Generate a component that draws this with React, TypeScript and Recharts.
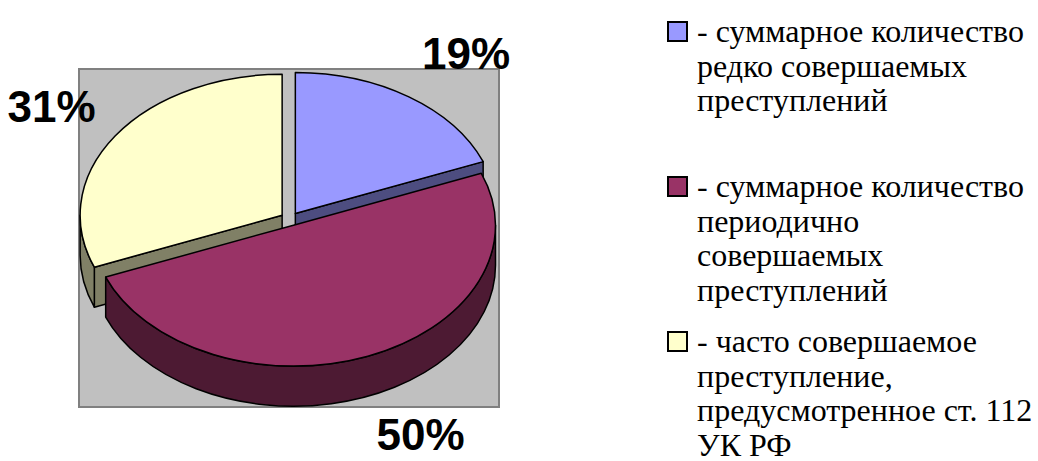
import React from 'react';
import { PieChart, Pie, Cell } from 'recharts';

// legend order: rarely / periodically / frequently committed crimes
const CATEGORIES = ['редко', 'периодично', 'часто'];
const VALUES = [19, 50, 31];
const LEGEND_LINES = [
  ['- суммарное количество', 'редко совершаемых', 'преступлений'],
  ['- суммарное количество', 'периодично', 'совершаемых', 'преступлений'],
  ['- часто совершаемое', 'преступление,', 'предусмотренное ст. 112', 'УК РФ'],
];

const TOP_COLORS = ['#9999FF', '#993366', '#FFFFCC'];
const SIDE_COLORS = ['#4D4D80', '#4D1A33', '#808066'];

const data = CATEGORIES.map((name, i) => ({ name, value: VALUES[i] }));

const RAD = Math.PI / 180;
const TILT = 0.698;
const DEPTH = 40;
const EXPLODE = 9.5;
const CX = 290;
const CY = 219;
const R = 202;

const SERIF = '"Liberation Serif", "DejaVu Serif", "Noto Serif", "Times New Roman", Times, serif';
const SANS = '"Liberation Sans", Arial, Helvetica, sans-serif';

function geom(p: any) {
  const a1 = Math.max(p.startAngle, p.endAngle);
  const a2 = Math.min(p.startAngle, p.endAngle);
  const m = ((a1 + a2) / 2) * RAD;
  const ox = p.cx + EXPLODE * Math.cos(m);
  const oy = p.cy - EXPLODE * TILT * Math.sin(m);
  const r = p.outerRadius;
  const ry = r * TILT;
  const pt = (deg: number, dy = 0) =>
    `${ox + r * Math.cos(deg * RAD)},${oy - ry * Math.sin(deg * RAD) + dy}`;
  const idx = CATEGORIES.indexOf(p.payload?.name ?? p.name);
  return { a1, a2, ox, oy, r, ry, pt, idx };
}

function SideFaces(p: any) {
  const { a1, a2, ox, oy, pt, idx } = geom(p);
  const faces: string[] = [];
  // a radial face shows only when it turns towards the viewer
  if (Math.cos(a1 * RAD) < -1e-6) faces.push(`M${ox},${oy} L${pt(a1)} L${pt(a1, DEPTH)} L${ox},${oy + DEPTH} Z`);
  if (Math.cos(a2 * RAD) > 1e-6) faces.push(`M${ox},${oy} L${pt(a2)} L${pt(a2, DEPTH)} L${ox},${oy + DEPTH} Z`);
  return (
    <g>
      {faces.map((d, i) => (
        <path key={i} d={d} fill={SIDE_COLORS[idx]} stroke="#000" strokeWidth={1.5} strokeLinejoin="round" />
      ))}
    </g>
  );
}

function OuterWall(p: any) {
  const { a1, a2, r, ry, pt, idx } = geom(p);
  const walls: string[] = [];
  [[-540, -360], [-180, 0], [180, 360]].forEach(([lo, hi]) => {
    const b1 = Math.min(a1, hi);
    const b2 = Math.max(a2, lo);
    if (b1 - b2 > 0.01) {
      const large = b1 - b2 > 180 ? 1 : 0;
      walls.push(
        `M${pt(b1)} A${r},${ry} 0 ${large} 1 ${pt(b2)} L${pt(b2, DEPTH)} A${r},${ry} 0 ${large} 0 ${pt(b1, DEPTH)} Z`
      );
    }
  });
  return (
    <g>
      {walls.map((d, i) => (
        <path key={i} d={d} fill={SIDE_COLORS[idx]} stroke="#000" strokeWidth={1.5} strokeLinejoin="round" />
      ))}
    </g>
  );
}

function TopFace(p: any) {
  const { a1, a2, ox, oy, r, ry, pt } = geom(p);
  const large = a1 - a2 > 180 ? 1 : 0;
  const d = `M${ox},${oy} L${pt(a1)} A${r},${ry} 0 ${large} 1 ${pt(a2)} Z`;
  return <path d={d} fill={p.fill} stroke="#000" strokeWidth={1.5} strokeLinejoin="round" />;
}

function PercentLabel(p: any) {
  const m = p.midAngle * RAD;
  const c = Math.cos(m);
  const s = Math.sin(m);
  const x = p.cx + 235 * c;
  const y = p.cy - 200 * s + (s < 0 ? 30 : 0);
  return (
    <text
      x={x}
      y={y}
      textAnchor={c >= 0 ? 'start' : 'end'}
      dominantBaseline="central"
      style={{ fontFamily: SANS, fontWeight: 'bold', fontSize: 44 }}
      fill="#000"
    >
      {`${Math.round(p.percent * 100)}%`}
    </text>
  );
}

const pieCommon = {
  data,
  dataKey: 'value',
  nameKey: 'name',
  cx: CX,
  cy: CY,
  outerRadius: R,
  startAngle: 90,
  endAngle: -270,
  stroke: 'none',
  isAnimationActive: false,
};

export default function App() {
  return (
    <div style={{ position: 'absolute', left: 0, top: 0, width: 1038, height: 461, background: '#fff' }}>
      <div
        style={{
          position: 'absolute',
          left: 78,
          top: 68,
          width: 422,
          height: 340,
          boxSizing: 'border-box',
          background: '#C0C0C0',
          border: '2px solid #808080',
        }}
      />
      <div style={{ position: 'absolute', left: 0, top: 0 }}>
        <PieChart width={1038} height={461} margin={{ top: 0, right: 0, bottom: 0, left: 0 }}>
          <Pie {...pieCommon} shape={SideFaces} label={false} labelLine={false}>
            {data.map((d, i) => <Cell key={d.name} fill={TOP_COLORS[i]} />)}
          </Pie>
          <Pie {...pieCommon} shape={OuterWall} label={false} labelLine={false}>
            {data.map((d, i) => <Cell key={d.name} fill={TOP_COLORS[i]} />)}
          </Pie>
          <Pie {...pieCommon} shape={TopFace} label={PercentLabel} labelLine={false}>
            {data.map((d, i) => <Cell key={d.name} fill={TOP_COLORS[i]} />)}
          </Pie>
        </PieChart>
      </div>
      {LEGEND_LINES.map((lines, i) => {
        const top = [14, 169, 324][i];
        return (
          <div key={i} style={{ position: 'absolute', left: 667, top }}>
            <div
              style={{
                position: 'absolute',
                left: 0,
                top: 7,
                width: 21,
                height: 21,
                boxSizing: 'border-box',
                background: TOP_COLORS[i],
                border: '2px solid #000',
              }}
            />
            <div
              style={{
                marginLeft: 30,
                fontFamily: SERIF,
                fontSize: 32,
                lineHeight: '34.5px',
                whiteSpace: 'nowrap',
                color: '#000',
              }}
            >
              {lines.map((l, j) => <div key={j}>{l}</div>)}
            </div>
          </div>
        );
      })}
    </div>
  );
}
